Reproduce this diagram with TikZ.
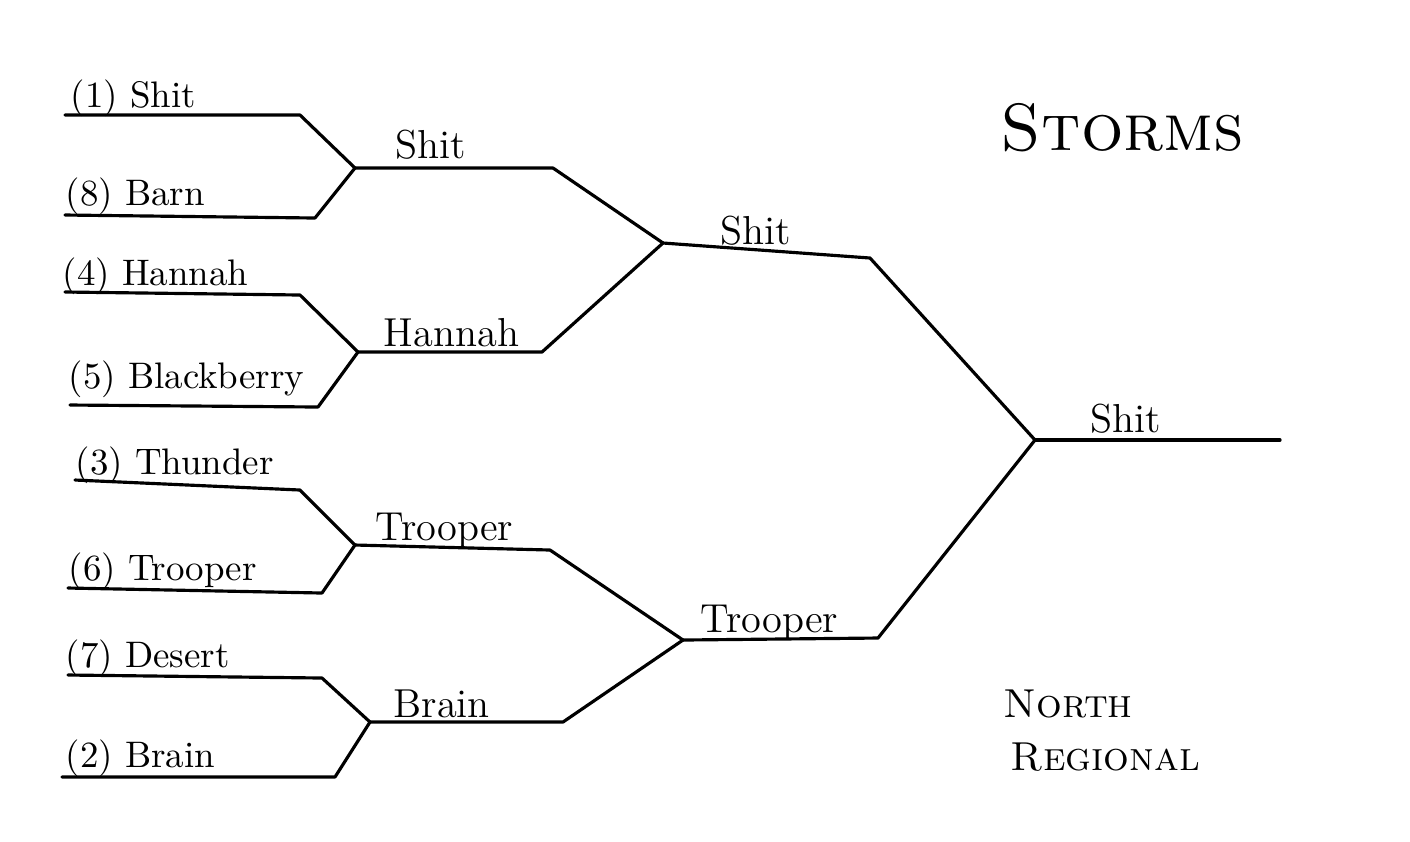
\documentclass[tikz,border=0pt]{standalone}
\usepackage{tikz}

\tikzset{
  bracket/.style={line width=0.9pt, line join=round, line cap=round},
  team/.style={anchor=base west, inner sep=0pt, font=\fontsize{10.5}{13}\selectfont},
  winner/.style={anchor=base west, inner sep=0pt, font=\fontsize{11.5}{14}\selectfont},
  heading/.style={anchor=base west, inner sep=0pt}
}

\begin{document}
\begin{tikzpicture}[x=0.01cm, y=-0.01cm]

    % picture measured in pixels, y runs downwards
    \useasboundingbox (0,0) rectangle (1410,841);

    % first round lines: start and end of each entry
    \coordinate (s1) at (65, 115);   \coordinate (e1) at (300, 115);
    \coordinate (s8) at (65, 215);   \coordinate (e8) at (315, 218);
    \coordinate (s4) at (65, 292);   \coordinate (e4) at (300, 295);
    \coordinate (s5) at (70, 405);   \coordinate (e5) at (318, 407);
    \coordinate (s3) at (75, 480);   \coordinate (e3) at (300, 490);
    \coordinate (s6) at (68, 588);   \coordinate (e6) at (322, 593);
    \coordinate (s7) at (68, 675);   \coordinate (e7) at (322, 678);
    \coordinate (s2) at (62, 777);   \coordinate (e2) at (335, 777);

    % junctions of the rounds
    \coordinate (J18) at (355, 168);
    \coordinate (J45) at (358, 352);
    \coordinate (J36) at (355, 545);
    \coordinate (J72) at (370, 722);
    \coordinate (Jtop) at (663, 243);
    \coordinate (Jbot) at (683, 640);
    \coordinate (Jfin) at (1035, 440);

    % ends of the later lines
    \coordinate (r18) at (553, 168);
    \coordinate (r45) at (542, 352);
    \coordinate (r36) at (550, 550);
    \coordinate (r72) at (563, 722);
    \coordinate (rtop) at (870, 258);
    \coordinate (rbot) at (878, 638);
    \coordinate (champ) at (1280, 440);

    % round one
    \draw[bracket] (s1) -- (e1) -- (J18);
    \draw[bracket] (s8) -- (e8) -- (J18);
    \draw[bracket] (s4) -- (e4) -- (J45);
    \draw[bracket] (s5) -- (e5) -- (J45);
    \draw[bracket] (s3) -- (e3) -- (J36);
    \draw[bracket] (s6) -- (e6) -- (J36);
    \draw[bracket] (s7) -- (e7) -- (J72);
    \draw[bracket] (s2) -- (e2) -- (J72);

    % round two
    \draw[bracket] (J18) -- (r18) -- (Jtop);
    \draw[bracket] (J45) -- (r45) -- (Jtop);
    \draw[bracket] (J36) -- (r36) -- (Jbot);
    \draw[bracket] (J72) -- (r72) -- (Jbot);

    % semis and final
    \draw[bracket] (Jtop) -- (rtop) -- (Jfin);
    \draw[bracket] (Jbot) -- (rbot) -- (Jfin);
    \draw[bracket] (Jfin) -- (champ);

    % seeded teams
    \node[team] (t1) at (70, 107)  {(1)\ Shit};
    \node[team] (t8) at (65, 205)  {(8)\ Barn};
    \node[team] (t4) at (62, 285)  {(4)\ Hannah};
    \node[team] (t5) at (68, 388)  {(5)\ Blackberry};
    \node[team] (t3) at (75, 474)  {(3)\ Thunder};
    \node[team] (t6) at (68, 580)  {(6)\ Trooper};
    \node[team] (t7) at (65, 667)  {(7)\ Desert};
    \node[team] (t2) at (65, 767)  {(2)\ Brain};

    % winners
    \node[winner] (w18) at (395, 158) {Shit};
    \node[winner] (w45) at (383, 346) {Hannah};
    \node[winner] (w36) at (375, 540) {Trooper};
    \node[winner] (w72) at (393, 717) {Brain};
    \node[winner] (wtop) at (720, 244) {Shit};
    \node[winner] (wbot) at (700, 632) {Trooper};
    \node[winner] (wfin) at (1090, 432) {Shit};

    % titles
    \node[heading, font=\fontsize{19}{23}\selectfont] (storms) at (1000, 150) {\textsc{Storms}};
    \node[heading, font=\fontsize{11.5}{14}\selectfont] (north) at (1003, 717) {\textsc{North}};
    \node[heading, font=\fontsize{11.5}{14}\selectfont] (regional) at (1010, 770) {\textsc{Regional}};

\end{tikzpicture}
\end{document}
